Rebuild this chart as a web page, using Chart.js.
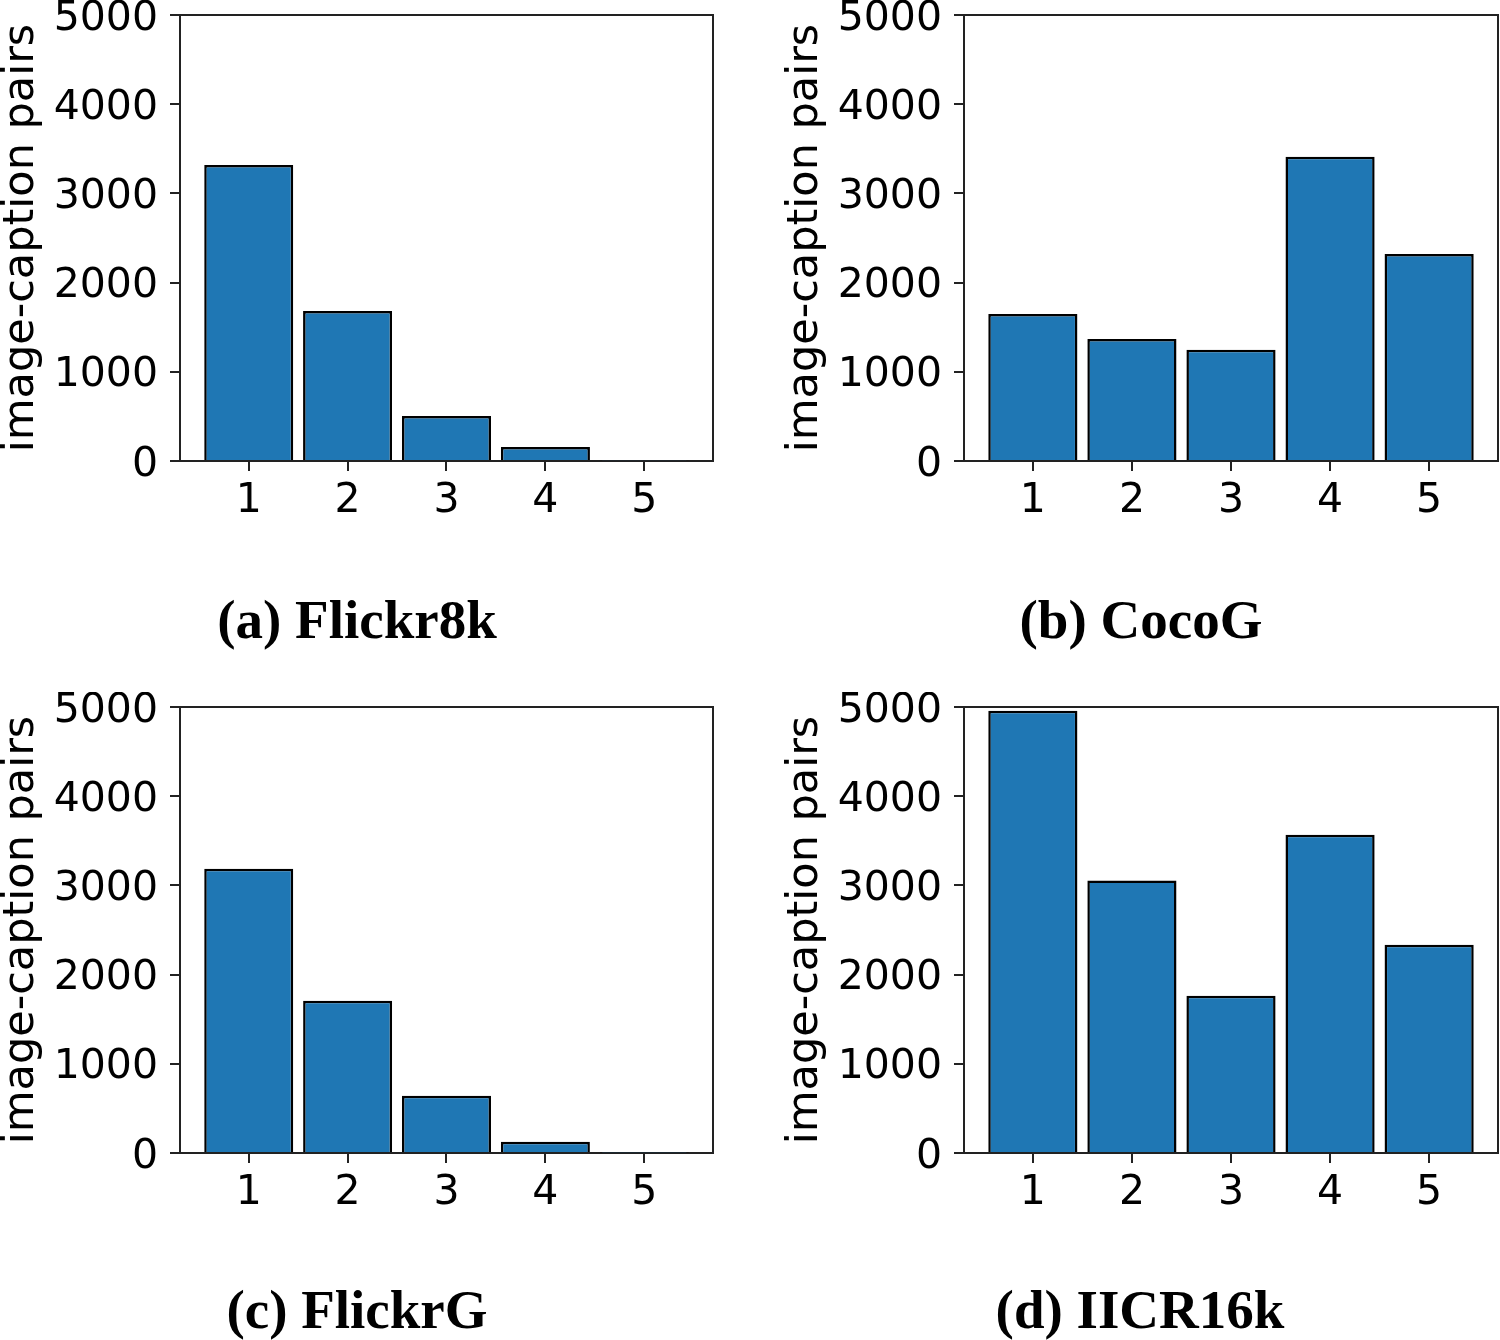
<!DOCTYPE html>
<html>
<head>
<meta charset="utf-8">
<script src="https://cdn.jsdelivr.net/npm/chart.js@4.4.1/dist/chart.umd.min.js"></script>
<style>
  html, body { margin: 0; padding: 0; background: #fff; width: 1500px; height: 1340px; overflow: hidden; }
  .panel { position: absolute; }
  .caption { position: absolute; transform: translate(-50%, -50%); font-family: "Liberation Serif", serif; font-weight: bold; font-size: 55px; color: #000; white-space: nowrap; }
</style>
</head>
<body>
<canvas id="ca" class="panel" width="750" height="540" style="left:0px;top:0px"></canvas>
<canvas id="cb" class="panel" width="716" height="540" style="left:784px;top:0px"></canvas>
<canvas id="cc" class="panel" width="750" height="540" style="left:0px;top:692px"></canvas>
<canvas id="cd" class="panel" width="716" height="540" style="left:784px;top:692px"></canvas>
<div class="caption" style="left:357px;top:619px">(a) Flickr8k</div>
<div class="caption" style="left:1141px;top:619px">(b) CocoG</div>
<div class="caption" style="left:357px;top:1309px">(c) FlickrG</div>
<div class="caption" style="left:1140px;top:1309px">(d) IICR16k</div>
<script>
// ---- data ----
const categories = [1, 2, 3, 4, 5];
const yTicks = [0, 1000, 2000, 3000, 4000, 5000];
const flickr8k = [3318, 1682, 504, 157, 8];
const cocoG = [1648, 1368, 1248, 3411, 2321];
const flickrG = [3187, 1707, 642, 127, 5];
const iicr16k = [4958, 3056, 1763, 3568, 2335];
const yTitle = "image-caption pairs";

const framePlugin = {
  id: 'frame',
  afterDraw(chart) {
    const a = chart.chartArea, ctx = chart.ctx;
    ctx.save();
    ctx.strokeStyle = '#222';
    ctx.lineWidth = 2;
    ctx.beginPath();
    ctx.moveTo(a.left, a.top); ctx.lineTo(a.right, a.top); ctx.lineTo(a.right, a.bottom);
    ctx.stroke();
    ctx.restore();
  }
};

function makeChart(id, values, rightPad) {
  const tickFont = { family: "DejaVu Sans", size: 41 };
  return new Chart(document.getElementById(id), {
    type: 'bar',
    data: {
      datasets: [{
        data: categories.map((c, i) => ({ x: c, y: values[i] })),
        backgroundColor: '#1f77b4',
        borderColor: '#000',
        borderWidth: 2.5,
        barPercentage: 0.9,
        categoryPercentage: 1.0
      }]
    },
    options: {
      responsive: false,
      animation: false,
      devicePixelRatio: 1,
      layout: { padding: { left: 0, top: 15, right: rightPad, bottom: 0 } },
      plugins: { legend: { display: false }, tooltip: { enabled: false } },
      scales: {
        x: {
          type: 'linear',
          offset: false,
          min: 0.305, max: 5.695,
          afterBuildTicks: s => { s.ticks = categories.map(v => ({ value: v })); },
          afterFit: s => { s.height = 79; s.paddingLeft = 0; s.paddingRight = 0; },
          grid: { display: true, offset: false, drawOnChartArea: false, drawTicks: true, tickLength: 10, color: '#222', lineWidth: 2 },
          border: { display: true, color: '#222', width: 2 },
          ticks: { font: tickFont, color: '#000', padding: 6, maxRotation: 0, autoSkip: false, callback: v => String(v) }
        },
        y: {
          type: 'linear',
          min: 0, max: 5000,
          afterBuildTicks: s => { s.ticks = yTicks.map(v => ({ value: v })); },
          afterFit: s => { s.width = 180; s.paddingTop = 0; s.paddingBottom = 0; },
          grid: { display: true, drawOnChartArea: false, drawTicks: true, tickLength: 10, color: '#222', lineWidth: 2 },
          border: { display: true, color: '#222', width: 2 },
          ticks: { font: tickFont, color: '#000', padding: 12, labelOffset: 4, callback: v => String(v) },
          title: { display: true, text: yTitle, color: '#000', font: { family: "DejaVu Sans", size: 43, lineHeight: 1 }, padding: 0 }
        }
      }
    },
    plugins: [framePlugin]
  });
}

makeChart('ca', flickr8k, 37);
makeChart('cb', cocoG, 2);
makeChart('cc', flickrG, 37);
makeChart('cd', iicr16k, 2);
</script>
</body>
</html>
